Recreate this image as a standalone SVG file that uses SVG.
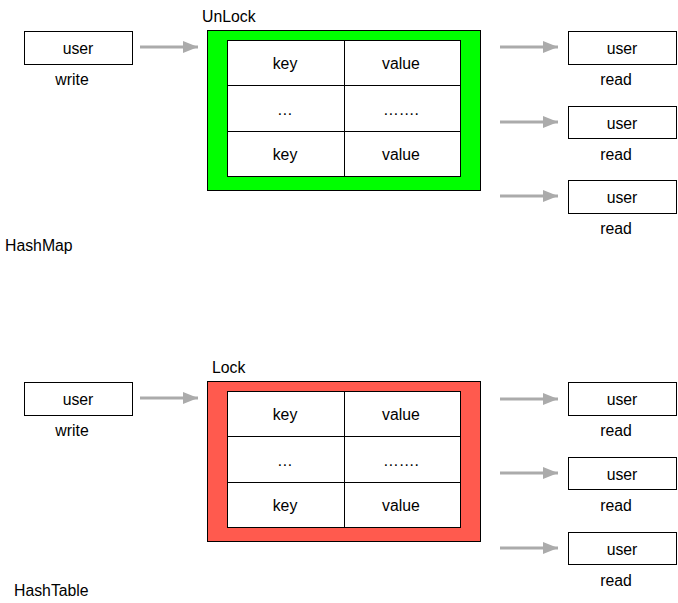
<svg xmlns="http://www.w3.org/2000/svg" width="678" height="603" viewBox="0 0 678 603">
<style>
text{font-family:"Liberation Sans",Arial,sans-serif;font-size:15.8px;fill:#000}
.c{text-anchor:middle}
.box{fill:#fff;stroke:#000;stroke-width:1}
.conn line{stroke:#ababab;stroke-width:3}
</style>
<defs>
<marker id="ah" markerWidth="5" markerHeight="4" refX="5" refY="2" orient="auto" markerUnits="strokeWidth">
<path d="M0,0 L5,2 L0,4 Z" fill="#ababab"/>
</marker>
</defs>
<rect width="678" height="603" fill="#fff"/>

<!-- HashMap section -->
<g id="writer1"><rect class="box" x="24.5" y="31.5" width="108" height="33"/><text class="c" x="78" y="54">user</text><text class="c" x="72" y="85">write</text></g>
<g id="map"><rect x="207.5" y="30.5" width="273" height="160" fill="#00ff00" stroke="#000"/>
<rect class="box" x="227.5" y="40.5" width="233" height="136"/>
<line x1="227.5" y1="85.5" x2="460.5" y2="85.5" stroke="#000"/>
<line x1="227.5" y1="131.5" x2="460.5" y2="131.5" stroke="#000"/>
<line x1="344.5" y1="40.5" x2="344.5" y2="176.5" stroke="#000"/>
<text class="c" x="285" y="69">key</text><text class="c" x="401" y="69">value</text>
<text class="c" x="285" y="115">…</text><text class="c" x="401" y="115">…….</text>
<text class="c" x="285" y="160">key</text><text class="c" x="401" y="160">value</text>
<text x="202" y="22">UnLock</text></g>
<g id="reader1a"><rect class="box" x="568.5" y="31.5" width="108" height="33"/><text class="c" x="622" y="54">user</text><text class="c" x="616" y="85">read</text></g>
<g id="reader1b"><rect class="box" x="568.5" y="106.5" width="108" height="32"/><text class="c" x="622" y="129">user</text><text class="c" x="616" y="160">read</text></g>
<g id="reader1c"><rect class="box" x="568.5" y="180.5" width="108" height="33"/><text class="c" x="622" y="203">user</text><text class="c" x="616" y="234">read</text></g>
<text id="hashmap" x="5" y="251">HashMap</text>

<!-- HashTable section -->
<g id="writer2"><rect class="box" x="24.5" y="382.5" width="108" height="33"/><text class="c" x="78" y="405">user</text><text class="c" x="72" y="436">write</text></g>
<g id="table"><rect x="207.5" y="381.5" width="273" height="160" fill="#ff5a4e" stroke="#000"/>
<rect class="box" x="227.5" y="391.5" width="233" height="136"/>
<line x1="227.5" y1="436.5" x2="460.5" y2="436.5" stroke="#000"/>
<line x1="227.5" y1="482.5" x2="460.5" y2="482.5" stroke="#000"/>
<line x1="344.5" y1="391.5" x2="344.5" y2="527.5" stroke="#000"/>
<text class="c" x="285" y="420">key</text><text class="c" x="401" y="420">value</text>
<text class="c" x="285" y="466">…</text><text class="c" x="401" y="466">…….</text>
<text class="c" x="285" y="511">key</text><text class="c" x="401" y="511">value</text>
<text x="212" y="373">Lock</text></g>
<g id="reader2a"><rect class="box" x="568.5" y="382.5" width="108" height="33"/><text class="c" x="622" y="405">user</text><text class="c" x="616" y="436">read</text></g>
<g id="reader2b"><rect class="box" x="568.5" y="457.5" width="108" height="32"/><text class="c" x="622" y="480">user</text><text class="c" x="616" y="511">read</text></g>
<g id="reader2c"><rect class="box" x="568.5" y="532.5" width="108" height="32"/><text class="c" x="622" y="555">user</text><text class="c" x="616" y="586">read</text></g>
<text id="hashtable" x="14" y="596">HashTable</text>

<g class="conn" id="connectors">
<line x1="140" y1="47" x2="198" y2="47" marker-end="url(#ah)"/>
<line x1="500" y1="47" x2="558" y2="47" marker-end="url(#ah)"/>
<line x1="500" y1="122" x2="558" y2="122" marker-end="url(#ah)"/>
<line x1="500" y1="196" x2="558" y2="196" marker-end="url(#ah)"/>
<line x1="140" y1="398" x2="198" y2="398" marker-end="url(#ah)"/>
<line x1="500" y1="399" x2="558" y2="399" marker-end="url(#ah)"/>
<line x1="500" y1="473" x2="558" y2="473" marker-end="url(#ah)"/>
<line x1="500" y1="548" x2="558" y2="548" marker-end="url(#ah)"/>
</g>
</svg>
